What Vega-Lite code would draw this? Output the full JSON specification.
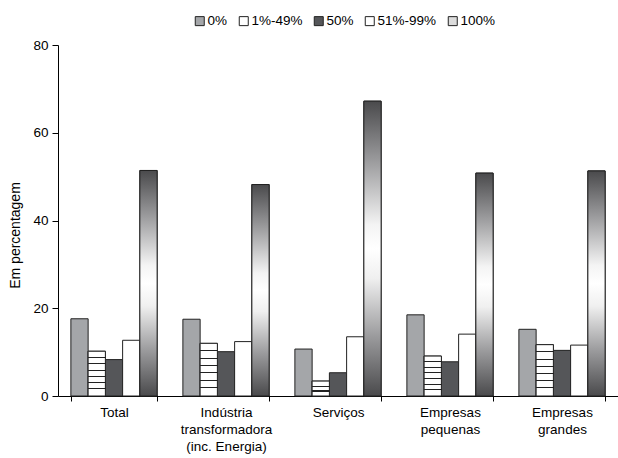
{
  "$schema": "https://vega.github.io/schema/vega-lite/v6.json",
  "width": 560,
  "height": 351,
  "autosize": "none",
  "padding": {"left": 58, "top": 45, "right": 0, "bottom": 62},
  "background": "white",
  "config": {
    "view": {"stroke": null},
    "font": "Liberation Sans",
    "axis": {
      "domainColor": "#000",
      "tickColor": "#000",
      "labelColor": "#000",
      "titleColor": "#000",
      "labelFont": "Liberation Sans",
      "titleFont": "Liberation Sans",
      "labelFontSize": 13.5,
      "titleFontSize": 14,
      "titleFontWeight": "normal",
      "grid": false
    },
    "legend": {"labelColor": "#000", "labelFont": "Liberation Sans"}
  },
  "data": {
    "values": [
      {"cat": "Total", "grp": "0%", "v": 17.6},
      {"cat": "Total", "grp": "1%-49%", "v": 10.2},
      {"cat": "Total", "grp": "50%", "v": 8.3},
      {"cat": "Total", "grp": "51%-99%", "v": 12.7},
      {"cat": "Total", "grp": "100%", "v": 51.4},
      {"cat": "Indústria|transformadora|(inc. Energia)", "grp": "0%", "v": 17.5},
      {"cat": "Indústria|transformadora|(inc. Energia)", "grp": "1%-49%", "v": 12.0},
      {"cat": "Indústria|transformadora|(inc. Energia)", "grp": "50%", "v": 10.1},
      {"cat": "Indústria|transformadora|(inc. Energia)", "grp": "51%-99%", "v": 12.4},
      {"cat": "Indústria|transformadora|(inc. Energia)", "grp": "100%", "v": 48.2},
      {"cat": "Serviços", "grp": "0%", "v": 10.7},
      {"cat": "Serviços", "grp": "1%-49%", "v": 3.4},
      {"cat": "Serviços", "grp": "50%", "v": 5.3},
      {"cat": "Serviços", "grp": "51%-99%", "v": 13.5},
      {"cat": "Serviços", "grp": "100%", "v": 67.2},
      {"cat": "Empresas|pequenas", "grp": "0%", "v": 18.5},
      {"cat": "Empresas|pequenas", "grp": "1%-49%", "v": 9.1},
      {"cat": "Empresas|pequenas", "grp": "50%", "v": 7.8},
      {"cat": "Empresas|pequenas", "grp": "51%-99%", "v": 14.1},
      {"cat": "Empresas|pequenas", "grp": "100%", "v": 50.8},
      {"cat": "Empresas|grandes", "grp": "0%", "v": 15.2},
      {"cat": "Empresas|grandes", "grp": "1%-49%", "v": 11.7},
      {"cat": "Empresas|grandes", "grp": "50%", "v": 10.4},
      {"cat": "Empresas|grandes", "grp": "51%-99%", "v": 11.6},
      {"cat": "Empresas|grandes", "grp": "100%", "v": 51.3}
    ]
  },
  "encoding": {
    "x": {
      "field": "cat",
      "type": "nominal",
      "sort": ["Total", "Indústria|transformadora|(inc. Energia)", "Serviços", "Empresas|pequenas", "Empresas|grandes"],
      "scale": {"paddingInner": 0.23, "paddingOuter": 0.115},
      "axis": {
        "title": null,
        "labelAngle": 0,
        "tickBand": "extent",
        "tickSize": 5,
        "labelPadding": 4,
        "labelLineHeight": 17,
        "labelExpr": "split(datum.label, '|')"
      }
    },
    "xOffset": {
      "field": "grp",
      "type": "nominal",
      "sort": ["0%", "1%-49%", "50%", "51%-99%", "100%"],
      "scale": {"domain": ["0%", "1%-49%", "50%", "51%-99%", "100%"], "paddingInner": 0, "paddingOuter": 0}
    },
    "y": {
      "field": "v",
      "type": "quantitative",
      "scale": {"domain": [0, 80]},
      "axis": {
        "title": "Em percentagem",
        "values": [0, 20, 40, 60, 80],
        "tickSize": 6,
        "labelPadding": 4,
        "titlePadding": 10,
        "titleY": 190
      }
    }
  },
  "layer": [
    {
      "mark": {"type": "bar", "stroke": "#222", "strokeWidth": 1},
      "encoding": {
        "color": {
          "field": "grp",
          "type": "nominal",
          "sort": ["0%", "1%-49%", "50%", "51%-99%", "100%"],
          "scale": {
            "domain": ["0%", "1%-49%", "50%", "51%-99%", "100%"],
            "range": ["#a4a6a9", "#ffffff", "#555659", "#ffffff", "#dcdcdc"]
          },
          "legend": {
            "orient": "none",
            "legendX": 135,
            "legendY": -31,
            "direction": "horizontal",
            "title": null,
            "symbolType": "square",
            "symbolSize": 81,
            "symbolStrokeColor": "#222",
            "symbolStrokeWidth": 1,
            "symbolOpacity": 1,
            "labelFontSize": 13.5,
            "labelOffset": 1,
            "columnPadding": 9,
            "padding": 0
          }
        }
      }
    },
    {
      "transform": [{"filter": "datum.grp === '100%'"}],
      "mark": {
        "type": "bar",
        "stroke": "#222",
        "strokeWidth": 1,
        "fill": {
          "gradient": "linear",
          "x1": 0, "y1": 0, "x2": 0, "y2": 1,
          "stops": [
            {"offset": 0, "color": "#4a4a4c"},
            {"offset": 0.2, "color": "#9a9a9c"},
            {"offset": 0.42, "color": "#f4f4f4"},
            {"offset": 0.5, "color": "#ffffff"},
            {"offset": 0.6, "color": "#f0f0f0"},
            {"offset": 0.8, "color": "#9a9a9c"},
            {"offset": 1, "color": "#4a4a4c"}
          ]
        }
      }
    },
    {
      "transform": [{"filter": "datum.grp === '1%-49%'"}],
      "mark": {"type": "bar", "stroke": "#222", "strokeWidth": 1},
      "encoding": {
        "fill": {
          "condition": {
            "test": "datum.cat === 'Serviços'",
            "value": {
              "gradient": "linear",
              "x1": 0, "y1": 0, "x2": 0, "y2": 1,
              "stops": [
                {"offset": 0, "color": "#ffffff"},
                {"offset": 0.3, "color": "#ffffff"},
                {"offset": 0.3, "color": "#222222"},
                {"offset": 0.37, "color": "#222222"},
                {"offset": 0.37, "color": "#ffffff"},
                {"offset": 0.63, "color": "#ffffff"},
                {"offset": 0.63, "color": "#222222"},
                {"offset": 0.7, "color": "#222222"},
                {"offset": 0.7, "color": "#ffffff"},
                {"offset": 1, "color": "#ffffff"}
              ]
            }
          },
          "value": {
            "gradient": "linear",
            "x1": 0, "y1": 0, "x2": 0, "y2": 1,
            "stops": [
              {"offset": 0, "color": "#ffffff"},
              {"offset": 0.13, "color": "#ffffff"},
              {"offset": 0.13, "color": "#222222"},
              {"offset": 0.152, "color": "#222222"},
              {"offset": 0.152, "color": "#ffffff"},
              {"offset": 0.27, "color": "#ffffff"},
              {"offset": 0.27, "color": "#222222"},
              {"offset": 0.292, "color": "#222222"},
              {"offset": 0.292, "color": "#ffffff"},
              {"offset": 0.41, "color": "#ffffff"},
              {"offset": 0.41, "color": "#222222"},
              {"offset": 0.432, "color": "#222222"},
              {"offset": 0.432, "color": "#ffffff"},
              {"offset": 0.55, "color": "#ffffff"},
              {"offset": 0.55, "color": "#222222"},
              {"offset": 0.572, "color": "#222222"},
              {"offset": 0.572, "color": "#ffffff"},
              {"offset": 0.69, "color": "#ffffff"},
              {"offset": 0.69, "color": "#222222"},
              {"offset": 0.712, "color": "#222222"},
              {"offset": 0.712, "color": "#ffffff"},
              {"offset": 0.83, "color": "#ffffff"},
              {"offset": 0.83, "color": "#222222"},
              {"offset": 0.852, "color": "#222222"},
              {"offset": 0.852, "color": "#ffffff"},
              {"offset": 1, "color": "#ffffff"}
            ]
          }
        }
      }
    }
  ]
}
